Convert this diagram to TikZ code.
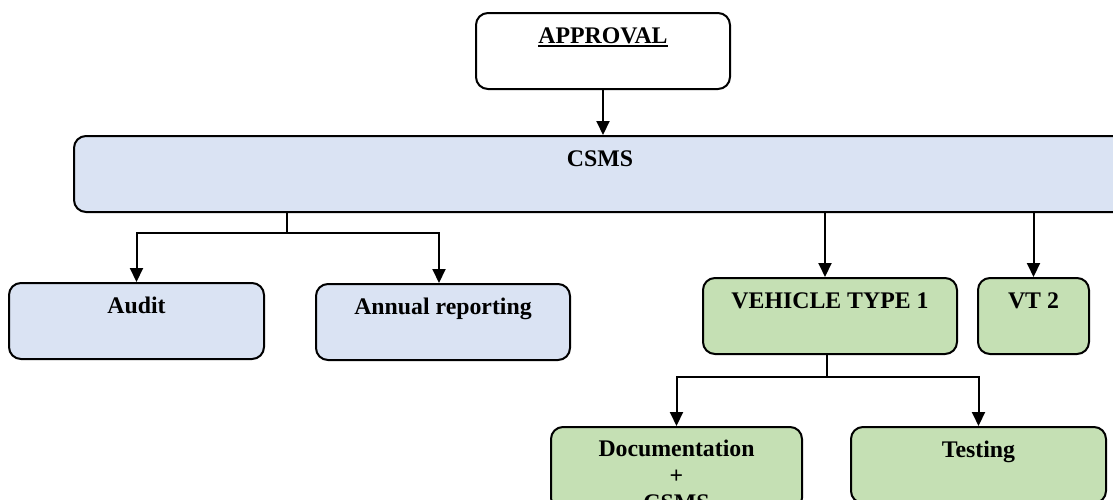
\documentclass[tikz,border=0pt]{standalone}
\usepackage{fontspec}
\setmainfont{Liberation Serif}
\usetikzlibrary{arrows.meta}
\newcommand{\ulapproval}[1]{\setbox0\hbox{#1}\rlap{\rule[-4pt]{\wd0}{1.8pt}}\box0}

\begin{document}
\begin{tikzpicture}[
            x=1pt,y=-1pt,thick,line width=2pt,
            >={Triangle[length=14pt,width=13pt]},
            boxnode/.style={rectangle, draw=black, rounded corners=12pt, line width=2pt, inner sep=0pt,
                            text height=30pt, text depth=46pt, align=center, anchor=north,
                            font=\fontsize{23.8pt}{27pt}\selectfont\bfseries},
            topnode/.style={boxnode, fill=white},
            bluenode/.style={boxnode, fill=csmsblue},
            greennode/.style={boxnode, fill=vtgreen},
            ]
            \useasboundingbox (0,0) rectangle (1113,499);
            \clip (0,0) rectangle (1113,499);
            \definecolor{csmsblue}{HTML}{DAE3F3}
            \definecolor{vtgreen}{HTML}{C5E0B4}
            % Nodes
            \node[topnode, minimum width=254pt] (approval) at (603,12) {\ulapproval{APPROVAL}};
            \node[bluenode, minimum width=1052pt] (csms) at (600,135) {CSMS};
            
            \node[bluenode, minimum width=255pt] (audit) at (136.5,282) {Audit};
            \node[bluenode, minimum width=254pt] (annual) at (443,283) {Annual reporting};
            \node[greennode, minimum width=254pt] (vt1) at (830,277) {VEHICLE TYPE 1};
            \node[greennode, minimum width=111pt] (vt2) at (1033.5,277) {VT 2};
            
            \node[greennode, minimum width=251pt, text height=83pt, text depth=-7pt] (doc) at (676.5,426) {Documentation\\+\\CSMS};
            \node[greennode, minimum width=255pt] (testing) at (978.5,426) {Testing};
            
            \coordinate (csmssplit) at (287,233);
            \coordinate (vtsplit) at (827,377);
            
            % Lines
            \draw[->] (approval) -- (approval |- csms.north);
            \draw (csmssplit |- csms.south) -- (csmssplit);
            \draw[->] (csmssplit) -| (audit.north);
            \draw[->] (csmssplit) -| ([xshift=-4pt]annual.north);
            \draw[->] ([xshift=-5pt]vt1.north |- csms.south) -- ([xshift=-5pt]vt1.north);
            \draw[->] (vt2.north |- csms.south) -- (vt2.north);
            
            \draw (vtsplit |- vt1.south) -- (vtsplit);
            \draw[->] (vtsplit) -| (doc.north);
            \draw[->] (vtsplit) -| (testing.north);
        \end{tikzpicture}
\end{document}
